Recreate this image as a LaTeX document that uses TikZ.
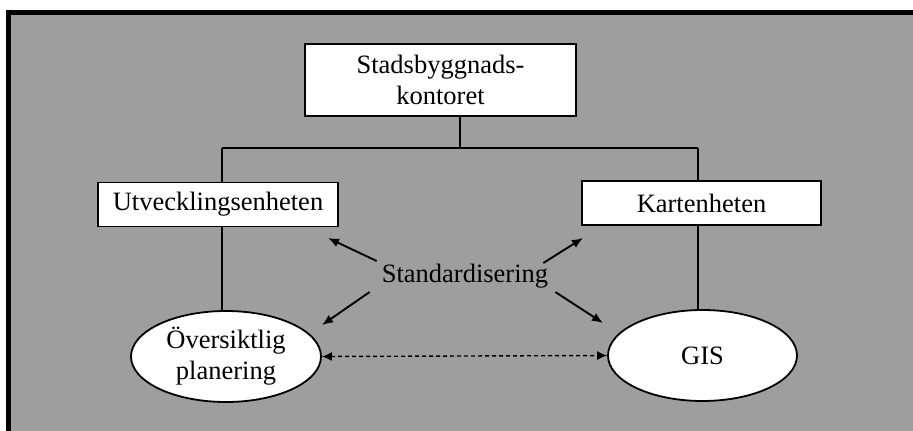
\documentclass[tikz,border=0pt]{standalone}
\usepackage{fontspec}
\setmainfont{Liberation Serif}
\usetikzlibrary{arrows.meta,shapes.geometric}
\definecolor{screen}{RGB}{158,158,158}
\begin{document}
\begin{tikzpicture}[x=1pt,y=-1pt,
  every node/.style={font=\fontsize{26.5}{31}\selectfont, inner sep=0pt},
  unit/.style={draw, line width=1.8pt, fill=white, rectangle, align=center},
  activity/.style={draw, line width=1.8pt, fill=white, ellipse, align=center},
  link/.style={line width=1.6pt},
  pointer/.style={line width=1.9pt, -{Latex[length=11pt,width=9pt]}},
  exchange/.style={line width=1.4pt, dash pattern=on 4pt off 3pt,
    {Latex[length=10pt,width=9pt]}-{Latex[length=10pt,width=9pt]}}]
\useasboundingbox (0,0) rectangle (913,431);
% shaded panel with its heavy frame
\fill[white] (0,0) rectangle (913,431);
\fill[screen] (8.5,12.5) rectangle (930,450);
\draw[line width=4.5pt] (8.5,12.5) rectangle (930,450);

% organisation units
\node[unit, minimum width=271pt, minimum height=72pt] (top) at (440.5,80)
  {Stadsbyggnads-\\kontoret};
\node[unit, minimum width=240pt, minimum height=44pt] (utv) at (218,204.5)
  {Utvecklingsenheten};
\node[unit, minimum width=239pt, minimum height=44pt] (kart) at (701.5,203)
  {Kartenheten};

% activities
\node[activity, minimum width=190pt, minimum height=91pt] (ovs) at (226,356.5)
  {Översiktlig\\planering};
\node[activity, minimum width=189pt, minimum height=91pt] (gis) at (702.5,355.5)
  {GIS};

\node (std) at (465,276) {Standardisering};

% tree of the organisation
\coordinate (j) at (460,148);
\coordinate (jl) at (222,148);
\coordinate (jr) at (698,148);
\draw[link] (top.south -| j) -- (j);
\draw[link] (jl) -- (jr);
\draw[link] (jl) -- (utv.north -| jl);
\draw[link] (jr) -- (kart.north -| jr);
\draw[link] (utv.south -| jl) -- (ovs.north -| jl);
\draw[link] (kart.south -| jr) -- (gis.north -| jr);

% standardisation arrows
\coordinate (a1) at (328,238);
\coordinate (a2) at (583,238);
\coordinate (a3) at (322,325);
\coordinate (a4) at (603,323);
\draw[pointer] ([shift={(-5,-15)}]std.west) -- (a1);
\draw[pointer] ([shift={(-5,-13)}]std.east) -- (a2);
\draw[pointer] ([shift={(-12,16)}]std.west) -- (a3);
\draw[pointer] ([shift={(7,16)}]std.east) -- (a4);

% exchange between planning and GIS
\draw[exchange] (ovs.east) -- (gis.west);
\end{tikzpicture}
\end{document}
